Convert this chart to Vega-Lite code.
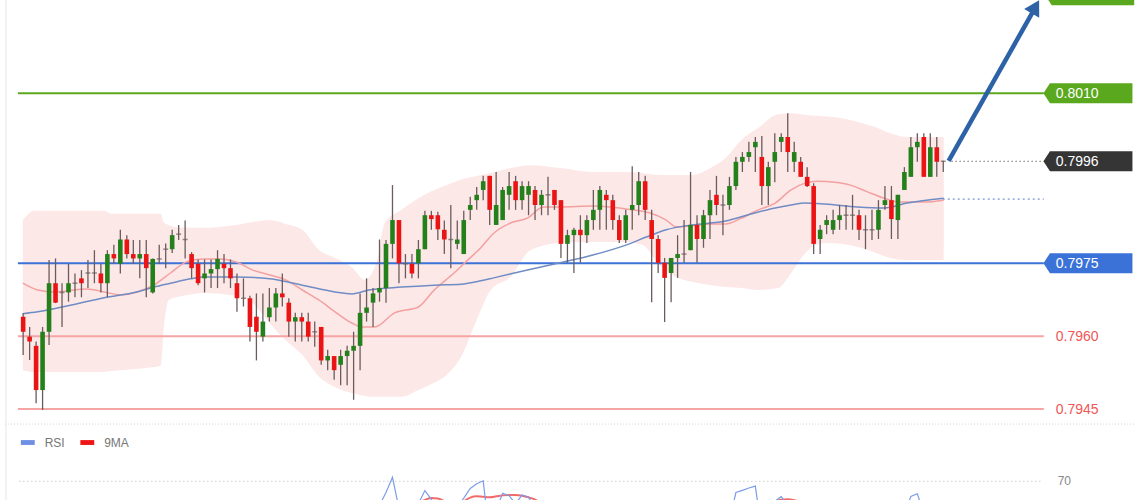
{
"$schema": "https://vega.github.io/schema/vega-lite/v6.json",
"width": 1140, "height": 500, "padding": 0, "autosize": {"type": "none"},
"background": "#ffffff",
"config": {"view": {"stroke": null}, "font": "Liberation Sans"},
"datasets": {
"candles": [
{"i":1,"o":0.7964,"h":0.79647,"l":0.79561,"c":0.79609},
{"i":2,"o":0.79599,"h":0.79619,"l":0.79551,"c":0.79589},
{"i":3,"o":0.7958,"h":0.79589,"l":0.79462,"c":0.79489},
{"i":4,"o":0.79489,"h":0.79619,"l":0.79448,"c":0.79609},
{"i":5,"o":0.79609,"h":0.79757,"l":0.79582,"c":0.79709},
{"i":6,"o":0.79709,"h":0.7976,"l":0.79668,"c":0.79669},
{"i":7,"o":0.7969,"h":0.79709,"l":0.79619,"c":0.7969},
{"i":8,"o":0.7969,"h":0.79749,"l":0.79671,"c":0.79709},
{"i":9,"o":0.79709,"h":0.79729,"l":0.7968,"c":0.79709},
{"i":10,"o":0.79719,"h":0.79736,"l":0.7968,"c":0.79709},
{"i":11,"o":0.7973,"h":0.79757,"l":0.79699,"c":0.7973},
{"i":12,"o":0.7973,"h":0.79777,"l":0.79709,"c":0.7973},
{"i":13,"o":0.79729,"h":0.79749,"l":0.7969,"c":0.79709},
{"i":14,"o":0.79709,"h":0.79777,"l":0.7968,"c":0.79769},
{"i":15,"o":0.79769,"h":0.79788,"l":0.79749,"c":0.7976},
{"i":16,"o":0.79749,"h":0.79819,"l":0.79729,"c":0.79799},
{"i":17,"o":0.79799,"h":0.79808,"l":0.7976,"c":0.79769},
{"i":18,"o":0.79769,"h":0.79798,"l":0.79749,"c":0.7976},
{"i":19,"o":0.7976,"h":0.79798,"l":0.79719,"c":0.79769},
{"i":20,"o":0.79769,"h":0.79798,"l":0.7968,"c":0.7974},
{"i":21,"o":0.7969,"h":0.7976,"l":0.79688,"c":0.79759},
{"i":22,"o":0.79759,"h":0.79788,"l":0.79749,"c":0.79759},
{"i":23,"o":0.79779,"h":0.79791,"l":0.7974,"c":0.79779},
{"i":24,"o":0.79779,"h":0.79819,"l":0.79771,"c":0.79808},
{"i":25,"o":0.7981,"h":0.79829,"l":0.79798,"c":0.7981},
{"i":26,"o":0.79799,"h":0.79838,"l":0.7976,"c":0.79799},
{"i":27,"o":0.79769,"h":0.79773,"l":0.79719,"c":0.7974},
{"i":28,"o":0.79749,"h":0.79758,"l":0.79705,"c":0.79709},
{"i":29,"o":0.79719,"h":0.79758,"l":0.7969,"c":0.79729},
{"i":30,"o":0.79729,"h":0.79758,"l":0.79699,"c":0.79738},
{"i":31,"o":0.79738,"h":0.79777,"l":0.79699,"c":0.79759},
{"i":32,"o":0.79749,"h":0.79769,"l":0.79709,"c":0.7974},
{"i":33,"o":0.7974,"h":0.79758,"l":0.79699,"c":0.79719},
{"i":34,"o":0.79709,"h":0.79729,"l":0.7965,"c":0.79678},
{"i":35,"o":0.79678,"h":0.79719,"l":0.79661,"c":0.79678},
{"i":36,"o":0.79678,"h":0.79683,"l":0.79589,"c":0.79619},
{"i":37,"o":0.7964,"h":0.79688,"l":0.7955,"c":0.79609},
{"i":38,"o":0.79599,"h":0.79688,"l":0.79589,"c":0.7963},
{"i":39,"o":0.79639,"h":0.79699,"l":0.7963,"c":0.79659},
{"i":40,"o":0.79659,"h":0.79699,"l":0.7963,"c":0.79688},
{"i":41,"o":0.79688,"h":0.79729,"l":0.79661,"c":0.7968},
{"i":42,"o":0.79669,"h":0.79678,"l":0.79599,"c":0.7963},
{"i":43,"o":0.7963,"h":0.79648,"l":0.79589,"c":0.79639},
{"i":44,"o":0.79639,"h":0.79648,"l":0.79589,"c":0.7963},
{"i":45,"o":0.7963,"h":0.79648,"l":0.79589,"c":0.79599},
{"i":46,"o":0.79609,"h":0.7963,"l":0.79578,"c":0.79609},
{"i":47,"o":0.79619,"h":0.79619,"l":0.79541,"c":0.7955},
{"i":48,"o":0.7955,"h":0.79572,"l":0.7953,"c":0.79559},
{"i":49,"o":0.79559,"h":0.79559,"l":0.7951,"c":0.7953},
{"i":50,"o":0.79541,"h":0.79572,"l":0.79499,"c":0.79559},
{"i":51,"o":0.79559,"h":0.7958,"l":0.79499,"c":0.7957},
{"i":52,"o":0.7957,"h":0.79609,"l":0.79469,"c":0.7958},
{"i":53,"o":0.7958,"h":0.79688,"l":0.7953,"c":0.79648},
{"i":54,"o":0.79648,"h":0.79719,"l":0.7963,"c":0.79659},
{"i":55,"o":0.79669,"h":0.79699,"l":0.79619,"c":0.79688},
{"i":56,"o":0.7969,"h":0.79799,"l":0.79671,"c":0.79699},
{"i":57,"o":0.79699,"h":0.79798,"l":0.79669,"c":0.7979},
{"i":58,"o":0.7979,"h":0.79911,"l":0.7976,"c":0.79839},
{"i":59,"o":0.79839,"h":0.79839,"l":0.79709,"c":0.7975},
{"i":60,"o":0.79749,"h":0.79769,"l":0.79719,"c":0.79749},
{"i":61,"o":0.79749,"h":0.79769,"l":0.79719,"c":0.79729},
{"i":62,"o":0.7975,"h":0.79798,"l":0.79719,"c":0.79779},
{"i":63,"o":0.79779,"h":0.79858,"l":0.79779,"c":0.79849},
{"i":64,"o":0.79849,"h":0.79858,"l":0.79819,"c":0.79841},
{"i":65,"o":0.79849,"h":0.79856,"l":0.79798,"c":0.7982},
{"i":66,"o":0.79819,"h":0.79838,"l":0.79769,"c":0.79799},
{"i":67,"o":0.79799,"h":0.7987,"l":0.7974,"c":0.79799},
{"i":68,"o":0.7979,"h":0.79838,"l":0.79779,"c":0.79799},
{"i":69,"o":0.79769,"h":0.79858,"l":0.79769,"c":0.79839},
{"i":70,"o":0.7986,"h":0.79887,"l":0.79839,"c":0.7987},
{"i":71,"o":0.7988,"h":0.79907,"l":0.7986,"c":0.79891},
{"i":72,"o":0.79901,"h":0.7993,"l":0.7988,"c":0.79919},
{"i":73,"o":0.7993,"h":0.7993,"l":0.79829,"c":0.7986},
{"i":74,"o":0.79829,"h":0.79938,"l":0.79829,"c":0.7987},
{"i":75,"o":0.79839,"h":0.79907,"l":0.79839,"c":0.79901},
{"i":76,"o":0.79891,"h":0.79938,"l":0.7986,"c":0.79909},
{"i":77,"o":0.79919,"h":0.7993,"l":0.7986,"c":0.7988},
{"i":78,"o":0.7988,"h":0.79919,"l":0.7986,"c":0.79909},
{"i":79,"o":0.79891,"h":0.79919,"l":0.79849,"c":0.79909},
{"i":80,"o":0.79901,"h":0.79909,"l":0.79839,"c":0.7987},
{"i":81,"o":0.7987,"h":0.79901,"l":0.79849,"c":0.79891},
{"i":82,"o":0.79891,"h":0.79928,"l":0.79849,"c":0.79891},
{"i":83,"o":0.79901,"h":0.79901,"l":0.7986,"c":0.7987},
{"i":84,"o":0.7988,"h":0.7988,"l":0.79761,"c":0.7979},
{"i":85,"o":0.7979,"h":0.79819,"l":0.79751,"c":0.79808},
{"i":86,"o":0.79808,"h":0.79823,"l":0.7973,"c":0.79819},
{"i":87,"o":0.79819,"h":0.79849,"l":0.79751,"c":0.79808},
{"i":88,"o":0.79808,"h":0.79849,"l":0.79792,"c":0.79839},
{"i":89,"o":0.79839,"h":0.79901,"l":0.79819,"c":0.7986},
{"i":90,"o":0.7986,"h":0.79909,"l":0.79819,"c":0.79901},
{"i":91,"o":0.79891,"h":0.79901,"l":0.79819,"c":0.7988},
{"i":92,"o":0.7988,"h":0.79891,"l":0.79819,"c":0.79839},
{"i":93,"o":0.79839,"h":0.79849,"l":0.79792,"c":0.79798},
{"i":94,"o":0.79798,"h":0.7986,"l":0.79792,"c":0.79849},
{"i":95,"o":0.7986,"h":0.7995,"l":0.79819,"c":0.7987},
{"i":96,"o":0.7987,"h":0.79938,"l":0.79849,"c":0.79919},
{"i":97,"o":0.79919,"h":0.7993,"l":0.79839,"c":0.7986},
{"i":98,"o":0.79839,"h":0.7986,"l":0.7967,"c":0.798},
{"i":99,"o":0.798,"h":0.79808,"l":0.7973,"c":0.79751},
{"i":100,"o":0.79751,"h":0.79761,"l":0.79629,"c":0.7972},
{"i":101,"o":0.7973,"h":0.79761,"l":0.7967,"c":0.79761},
{"i":102,"o":0.79761,"h":0.79808,"l":0.7972,"c":0.79769},
{"i":103,"o":0.79769,"h":0.79839,"l":0.79751,"c":0.79769},
{"i":104,"o":0.79777,"h":0.79938,"l":0.79777,"c":0.79829},
{"i":105,"o":0.79829,"h":0.79849,"l":0.79751,"c":0.798},
{"i":106,"o":0.798,"h":0.7986,"l":0.79782,"c":0.79849},
{"i":107,"o":0.79849,"h":0.79901,"l":0.798,"c":0.7988},
{"i":108,"o":0.79891,"h":0.7993,"l":0.79849,"c":0.7987},
{"i":109,"o":0.7987,"h":0.79891,"l":0.79808,"c":0.7987},
{"i":110,"o":0.7987,"h":0.79928,"l":0.7986,"c":0.79909},
{"i":111,"o":0.79909,"h":0.79969,"l":0.79901,"c":0.79959},
{"i":112,"o":0.79959,"h":0.79979,"l":0.79938,"c":0.79969},
{"i":113,"o":0.79969,"h":0.8,"l":0.79959,"c":0.79979},
{"i":114,"o":0.79989,"h":0.8001,"l":0.79938,"c":0.8},
{"i":115,"o":0.79969,"h":0.80012,"l":0.7987,"c":0.79909},
{"i":116,"o":0.79909,"h":0.79959,"l":0.7987,"c":0.79948},
{"i":117,"o":0.79959,"h":0.80018,"l":0.79917,"c":0.79979},
{"i":118,"o":0.8,"h":0.80018,"l":0.79979,"c":0.8001},
{"i":119,"o":0.8001,"h":0.80059,"l":0.79938,"c":0.79979},
{"i":120,"o":0.79959,"h":0.8,"l":0.79938,"c":0.79979},
{"i":121,"o":0.79959,"h":0.79969,"l":0.79928,"c":0.79928},
{"i":122,"o":0.79928,"h":0.79948,"l":0.79907,"c":0.79909},
{"i":123,"o":0.79909,"h":0.79915,"l":0.79769,"c":0.7979},
{"i":124,"o":0.798,"h":0.79829,"l":0.79769,"c":0.79819},
{"i":125,"o":0.79829,"h":0.79849,"l":0.7981,"c":0.79839},
{"i":126,"o":0.79819,"h":0.7986,"l":0.7981,"c":0.79839},
{"i":127,"o":0.79839,"h":0.7987,"l":0.79819,"c":0.79849},
{"i":128,"o":0.79849,"h":0.7987,"l":0.79819,"c":0.79849},
{"i":129,"o":0.79849,"h":0.79891,"l":0.79819,"c":0.79849},
{"i":130,"o":0.79849,"h":0.7986,"l":0.79798,"c":0.79819},
{"i":131,"o":0.79819,"h":0.79849,"l":0.79779,"c":0.79819},
{"i":132,"o":0.79819,"h":0.7986,"l":0.79798,"c":0.79819},
{"i":133,"o":0.79819,"h":0.7988,"l":0.798,"c":0.7986},
{"i":134,"o":0.7987,"h":0.79909,"l":0.7986,"c":0.7988},
{"i":135,"o":0.7988,"h":0.79909,"l":0.798,"c":0.79841},
{"i":136,"o":0.79839,"h":0.79891,"l":0.798,"c":0.79891},
{"i":137,"o":0.79901,"h":0.79948,"l":0.79901,"c":0.79938},
{"i":138,"o":0.79928,"h":0.8001,"l":0.79928,"c":0.79989},
{"i":139,"o":0.79989,"h":0.80018,"l":0.79959,"c":0.8},
{"i":140,"o":0.8001,"h":0.80018,"l":0.79928,"c":0.79928},
{"i":141,"o":0.79928,"h":0.80018,"l":0.79928,"c":0.79989},
{"i":142,"o":0.79989,"h":0.8001,"l":0.79928,"c":0.79959},
{"i":143,"o":0.7996,"h":0.79961,"l":0.79938,"c":0.7996}
],
"band": [
{"i":0.95,"up":0.79839,"lo":0.7953},
{"i":2.79,"up":0.79858,"lo":0.79526},
{"i":7.38,"up":0.79858,"lo":0.79526},
{"i":13.5,"up":0.79858,"lo":0.79526},
{"i":14.57,"up":0.79852,"lo":0.79528},
{"i":19.62,"up":0.79852,"lo":0.79534},
{"i":22.22,"up":0.79852,"lo":0.79539},
{"i":22.68,"up":0.79835,"lo":0.79613},
{"i":23.44,"up":0.79829,"lo":0.79674},
{"i":25.74,"up":0.79823,"lo":0.79683},
{"i":28.8,"up":0.79823,"lo":0.79689},
{"i":33.85,"up":0.79829,"lo":0.79683},
{"i":36.44,"up":0.79835,"lo":0.79668},
{"i":39.04,"up":0.79839,"lo":0.79627},
{"i":41.49,"up":0.79831,"lo":0.79592},
{"i":44.09,"up":0.79819,"lo":0.79561},
{"i":46.69,"up":0.79777,"lo":0.79516},
{"i":49.14,"up":0.79761,"lo":0.79495},
{"i":51.74,"up":0.79742,"lo":0.79483},
{"i":53.73,"up":0.79716,"lo":0.79477},
{"i":55.57,"up":0.79753,"lo":0.79475},
{"i":56.79,"up":0.79833,"lo":0.79475},
{"i":59.39,"up":0.7986,"lo":0.79475},
{"i":61.99,"up":0.79884,"lo":0.79489},
{"i":64.44,"up":0.79901,"lo":0.79504},
{"i":65.97,"up":0.79909,"lo":0.79516},
{"i":68.57,"up":0.79922,"lo":0.79557},
{"i":71.17,"up":0.7993,"lo":0.79639},
{"i":73.16,"up":0.79936,"lo":0.79695},
{"i":76.22,"up":0.79946,"lo":0.79722},
{"i":79.28,"up":0.79952,"lo":0.79777},
{"i":83.87,"up":0.79946,"lo":0.79792},
{"i":88.92,"up":0.79938,"lo":0.79794},
{"i":94.12,"up":0.79938,"lo":0.79794},
{"i":96.56,"up":0.79936,"lo":0.79788},
{"i":99.17,"up":0.79932,"lo":0.79747},
{"i":101.77,"up":0.79932,"lo":0.79722},
{"i":104.21,"up":0.79932,"lo":0.79712},
{"i":107.27,"up":0.79948,"lo":0.79705},
{"i":109.41,"up":0.79967,"lo":0.79701},
{"i":111.86,"up":0.80004,"lo":0.79699},
{"i":114.46,"up":0.80029,"lo":0.79695},
{"i":117.52,"up":0.80057,"lo":0.79699},
{"i":119.51,"up":0.80059,"lo":0.7973},
{"i":122.11,"up":0.80055,"lo":0.79777},
{"i":124.71,"up":0.80053,"lo":0.79792},
{"i":127.16,"up":0.80049,"lo":0.7979},
{"i":129.76,"up":0.80041,"lo":0.79784},
{"i":132.36,"up":0.80031,"lo":0.79773},
{"i":134.8,"up":0.80018,"lo":0.79761},
{"i":137.41,"up":0.8001,"lo":0.79757},
{"i":140.01,"up":0.8001,"lo":0.79757},
{"i":143.07,"up":0.8001,"lo":0.79757}
],
"ma20": [
{"i":0.95,"v":0.79709},{"i":3.25,"v":0.79695},{"i":5.85,"v":0.79691},{"i":10.9,"v":0.79697},
{"i":13.5,"v":0.79691},{"i":16.1,"v":0.79685},{"i":18.55,"v":0.79691},{"i":21.15,"v":0.79705},
{"i":23.75,"v":0.7973},{"i":26.2,"v":0.79753},{"i":28.8,"v":0.79759},{"i":31.4,"v":0.79759},
{"i":33.85,"v":0.79753},{"i":36.44,"v":0.79736},{"i":39.04,"v":0.79726},{"i":41.49,"v":0.79716},
{"i":44.09,"v":0.79695},{"i":46.69,"v":0.79674},{"i":49.14,"v":0.7965},{"i":51.74,"v":0.79627},
{"i":53.27,"v":0.79619},{"i":55.26,"v":0.79619},{"i":58.32,"v":0.79648},{"i":61.99,"v":0.7966},
{"i":64.44,"v":0.79695},{"i":67.5,"v":0.7973},{"i":69.64,"v":0.79757},{"i":71.63,"v":0.79782},
{"i":73.62,"v":0.79812},{"i":76.22,"v":0.79833},{"i":78.82,"v":0.79843},{"i":81.27,"v":0.79866},
{"i":83.87,"v":0.79866},{"i":88.92,"v":0.79868},{"i":91.52,"v":0.79866},{"i":95.04,"v":0.7986},
{"i":97.64,"v":0.79854},{"i":100.24,"v":0.79839},{"i":101.77,"v":0.79825},{"i":104.21,"v":0.79827},
{"i":106.82,"v":0.79831},{"i":109.41,"v":0.79831},{"i":111.86,"v":0.79843},{"i":114.46,"v":0.7986},
{"i":117.06,"v":0.79874},{"i":119.51,"v":0.79901},{"i":121.65,"v":0.79915},{"i":123.64,"v":0.79919},
{"i":126.24,"v":0.79917},{"i":128.69,"v":0.79911},{"i":131.29,"v":0.79897},{"i":133.89,"v":0.79884},
{"i":136.33,"v":0.79876},{"i":140.01,"v":0.79876},{"i":143.07,"v":0.7988}
],
"ma100": [
{"i":0.95,"v":0.79646},{"i":3.25,"v":0.7965},{"i":8.45,"v":0.79664},{"i":13.5,"v":0.79679},
{"i":18.55,"v":0.79691},{"i":21.15,"v":0.79701},{"i":23.75,"v":0.79709},{"i":26.81,"v":0.79718},
{"i":28.8,"v":0.79722},{"i":33.85,"v":0.79722},{"i":39.04,"v":0.79718},{"i":44.09,"v":0.79705},
{"i":49.14,"v":0.79691},{"i":51.74,"v":0.79687},{"i":54.34,"v":0.79695},{"i":59.39,"v":0.79701},
{"i":64.44,"v":0.79705},{"i":68.57,"v":0.79707},{"i":71.63,"v":0.79714},{"i":73.62,"v":0.7972},
{"i":78.82,"v":0.79736},{"i":83.87,"v":0.79751},{"i":88.92,"v":0.79767},{"i":94.12,"v":0.79788},
{"i":97.18,"v":0.79804},{"i":100.24,"v":0.79819},{"i":104.21,"v":0.79829},{"i":109.41,"v":0.79837},
{"i":112.93,"v":0.7985},{"i":117.06,"v":0.79864},{"i":119.51,"v":0.7987},{"i":121.65,"v":0.79874},
{"i":124.71,"v":0.79872},{"i":129.76,"v":0.79866},{"i":133.89,"v":0.79864},{"i":137.41,"v":0.79874},
{"i":143.07,"v":0.79884}
],
"tags": [{"t":"res","p":0.801},{"t":"cur","p":0.7996},{"t":"sup","p":0.7975}],
"target": [{"t":"res","p":0.80302}],
"redlv": [{"p":0.796},{"p":0.7945}],
"rsi": [
{"g":1,"i":56,"v":55},{"g":1,"i":57,"v":63},{"g":1,"i":58,"v":72.5},{"g":1,"i":59,"v":53},
{"g":2,"i":62,"v":56},{"g":2,"i":63,"v":64.2},{"g":2,"i":64,"v":58.7},{"g":2,"i":65,"v":52},
{"g":3,"i":68,"v":54},{"g":3,"i":69,"v":59.5},{"g":3,"i":70,"v":65.5},{"g":3,"i":71,"v":68.5},{"g":3,"i":72,"v":70.3},{"g":3,"i":73,"v":35},{"g":3,"i":74,"v":52},{"g":3,"i":75,"v":62.5},{"g":3,"i":76,"v":61},{"g":3,"i":77,"v":56},{"g":3,"i":78,"v":61.5},{"g":3,"i":79,"v":60},{"g":3,"i":80,"v":53},
{"g":4,"i":110,"v":45},{"g":4,"i":111,"v":63},{"g":4,"i":112,"v":64.3},{"g":4,"i":113,"v":65.8},{"g":4,"i":114,"v":67},{"g":4,"i":115,"v":38},
{"g":5,"i":117,"v":57.5},{"g":5,"i":118,"v":60.4},{"g":5,"i":119,"v":55},
{"g":6,"i":137,"v":50},{"g":6,"i":138,"v":60.5},{"g":6,"i":139,"v":62.2},{"g":6,"i":140,"v":50}
],
"rsima": [
{"g":1,"i":62,"v":56.5},{"g":1,"i":63,"v":58.4},{"g":1,"i":64,"v":59.6},{"g":1,"i":65,"v":59.3},{"g":1,"i":66,"v":57.5},
{"g":2,"i":69,"v":57.5},{"g":2,"i":70,"v":59.8},{"g":2,"i":71,"v":60.6},{"g":2,"i":72,"v":60.3},{"g":2,"i":73,"v":60.1},{"g":2,"i":74,"v":60.6},{"g":2,"i":75,"v":61.2},{"g":2,"i":76,"v":61.5},{"g":2,"i":77,"v":61.5},{"g":2,"i":78,"v":61},{"g":2,"i":79,"v":60},{"g":2,"i":80,"v":58.6},{"g":2,"i":81,"v":56},
{"g":3,"i":117,"v":57.5},{"g":3,"i":118,"v":58.5},{"g":3,"i":119,"v":58.8},{"g":3,"i":120,"v":58.2},{"g":3,"i":121,"v":57}
],
"one": [{}]
},
"layer": [
{"layer": [
{"data": {"name": "one"}, "mark": {"type": "rule", "color": "#e2e6ee", "strokeWidth": 1},
 "encoding": {"x": {"datum": -1.65, "type": "quantitative", "scale": {"domain": [-1.7994, 172.5918], "nice": false, "zero": false}, "axis": null},
  "y": {"datum": 0.7926265, "type": "quantitative", "scale": {"domain": [0.7926265, 0.802921], "nice": false, "zero": false}, "axis": null},
  "y2": {"datum": 0.802921}}},
{"data": {"name": "band"}, "mark": {"type": "area", "color": "#fde8e8", "opacity": 1, "interpolate": "monotone"},
 "encoding": {"x": {"field": "i", "type": "quantitative", "scale": {"domain": [-1.7994, 172.5918], "nice": false, "zero": false}, "axis": null},
  "y": {"field": "up", "type": "quantitative", "scale": {"domain": [0.7926265, 0.802921], "nice": false, "zero": false}, "axis": null},
  "y2": {"field": "lo"}}},
{"data": {"name": "redlv"}, "mark": {"type": "rule", "color": "#f6a5a5", "strokeWidth": 2},
 "encoding": {"x": {"datum": 0.19, "type": "quantitative", "scale": {"domain": [-1.7994, 172.5918], "nice": false, "zero": false}, "axis": null},
  "x2": {"datum": 158.52},
  "y": {"field": "p", "type": "quantitative", "scale": {"domain": [0.7926265, 0.802921], "nice": false, "zero": false}, "axis": null}}},
{"data": {"name": "tags"}, "transform": [{"filter": "datum.t != 'cur'"}],
 "mark": {"type": "rule", "strokeWidth": 2},
 "encoding": {"x": {"datum": 0.19, "type": "quantitative", "scale": {"domain": [-1.7994, 172.5918], "nice": false, "zero": false}, "axis": null},
  "x2": {"datum": 158.52},
  "y": {"field": "p", "type": "quantitative", "scale": {"domain": [0.7926265, 0.802921], "nice": false, "zero": false}, "axis": null},
  "color": {"field": "t", "type": "nominal", "scale": {"domain": ["res", "cur", "sup"], "range": ["#5aa81e", "#353535", "#3a72d8"]}, "legend": null}}},
{"data": {"name": "ma20"}, "mark": {"type": "line", "color": "#f3a0a0", "strokeWidth": 1.5, "interpolate": "monotone"},
 "encoding": {"x": {"field": "i", "type": "quantitative", "scale": {"domain": [-1.7994, 172.5918], "nice": false, "zero": false}, "axis": null},
  "y": {"field": "v", "type": "quantitative", "scale": {"domain": [0.7926265, 0.802921], "nice": false, "zero": false}, "axis": null}}},
{"data": {"name": "ma100"}, "mark": {"type": "line", "color": "#6f8cc4", "strokeWidth": 1.5, "interpolate": "monotone"},
 "encoding": {"x": {"field": "i", "type": "quantitative", "scale": {"domain": [-1.7994, 172.5918], "nice": false, "zero": false}, "axis": null},
  "y": {"field": "v", "type": "quantitative", "scale": {"domain": [0.7926265, 0.802921], "nice": false, "zero": false}, "axis": null}}},
{"data": {"name": "candles"}, "mark": {"type": "rule", "color": "#6a5c5c", "strokeWidth": 1.3},
 "encoding": {"x": {"field": "i", "type": "quantitative", "scale": {"domain": [-1.7994, 172.5918], "nice": false, "zero": false}, "axis": null},
  "y": {"field": "l", "type": "quantitative", "scale": {"domain": [0.7926265, 0.802921], "nice": false, "zero": false}, "axis": null},
  "y2": {"field": "h"}}},
{"data": {"name": "candles"}, "mark": {"type": "bar", "width": 4.6},
 "encoding": {"x": {"field": "i", "type": "quantitative", "scale": {"domain": [-1.7994, 172.5918], "nice": false, "zero": false}, "axis": null},
  "y": {"field": "o", "type": "quantitative", "scale": {"domain": [0.7926265, 0.802921], "nice": false, "zero": false}, "axis": null},
  "y2": {"field": "c"},
  "color": {"condition": {"test": "datum.c >= datum.o", "value": "#23801a"}, "value": "#ea1414"}}},
{"data": {"name": "candles"}, "transform": [{"filter": "datum.o == datum.c"}],
 "mark": {"type": "tick", "orient": "horizontal", "size": 5, "thickness": 1.5, "color": "#6a5c5c"},
 "encoding": {"x": {"field": "i", "type": "quantitative", "scale": {"domain": [-1.7994, 172.5918], "nice": false, "zero": false}, "axis": null},
  "y": {"field": "o", "type": "quantitative", "scale": {"domain": [0.7926265, 0.802921], "nice": false, "zero": false}, "axis": null}}},
{"data": {"name": "tags"}, "transform": [{"filter": "datum.t == 'cur'"}],
 "mark": {"type": "rule", "color": "#333333", "strokeWidth": 1, "strokeDash": [1, 3]},
 "encoding": {"x": {"datum": 144.29, "type": "quantitative", "scale": {"domain": [-1.7994, 172.5918], "nice": false, "zero": false}, "axis": null},
  "x2": {"datum": 158.52},
  "y": {"field": "p", "type": "quantitative", "scale": {"domain": [0.7926265, 0.802921], "nice": false, "zero": false}, "axis": null}}},
{"data": {"name": "one"}, "mark": {"type": "rule", "color": "#7b98d8", "strokeWidth": 1.2, "strokeDash": [2, 3]},
 "encoding": {"x": {"datum": 142.92, "type": "quantitative", "scale": {"domain": [-1.7994, 172.5918], "nice": false, "zero": false}, "axis": null},
  "x2": {"datum": 158.52},
  "y": {"datum": 0.79882, "type": "quantitative", "scale": {"domain": [0.7926265, 0.802921], "nice": false, "zero": false}, "axis": null}}},
{"data": {"name": "tags"}, "mark": {"type": "point", "shape": "M-4.45,0L-3.8,-1L4.45,-1L4.45,1L-3.8,1Z", "size": 400, "filled": true, "opacity": 1, "strokeWidth": 0},
 "encoding": {"x": {"datum": 165.33, "type": "quantitative", "scale": {"domain": [-1.7994, 172.5918], "nice": false, "zero": false}, "axis": null},
  "y": {"field": "p", "type": "quantitative", "scale": {"domain": [0.7926265, 0.802921], "nice": false, "zero": false}, "axis": null},
  "color": {"field": "t", "type": "nominal", "scale": {"domain": ["res", "cur", "sup"], "range": ["#5aa81e", "#353535", "#2b6ff0"]}, "legend": null}}},
{"data": {"name": "target"}, "mark": {"type": "point", "shape": "M-4.45,0L-3.8,-1L4.45,-1L4.45,1L-3.8,1Z", "size": 400, "filled": true, "opacity": 1, "strokeWidth": 0, "color": "#5aa81e", "clip": true},
 "encoding": {"x": {"datum": 165.6, "type": "quantitative", "scale": {"domain": [-1.7994, 172.5918], "nice": false, "zero": false}, "axis": null},
  "y": {"field": "p", "type": "quantitative", "scale": {"domain": [0.7926265, 0.802921], "nice": false, "zero": false}, "axis": null}}},
{"data": {"name": "tags"}, "mark": {"type": "text", "align": "left", "baseline": "middle", "fontSize": 14, "color": "#ffffff", "dy": 1},
 "encoding": {"x": {"datum": 160.36, "type": "quantitative", "scale": {"domain": [-1.7994, 172.5918], "nice": false, "zero": false}, "axis": null},
  "y": {"field": "p", "type": "quantitative", "scale": {"domain": [0.7926265, 0.802921], "nice": false, "zero": false}, "axis": null},
  "text": {"field": "p", "type": "quantitative", "format": ".4f"}}},
{"data": {"name": "redlv"}, "mark": {"type": "text", "align": "left", "baseline": "middle", "fontSize": 14, "color": "#f05656", "dy": 1},
 "encoding": {"x": {"datum": 160.36, "type": "quantitative", "scale": {"domain": [-1.7994, 172.5918], "nice": false, "zero": false}, "axis": null},
  "y": {"field": "p", "type": "quantitative", "scale": {"domain": [0.7926265, 0.802921], "nice": false, "zero": false}, "axis": null},
  "text": {"field": "p", "type": "quantitative", "format": ".4f"}}},
{"data": {"name": "one"}, "mark": {"type": "rule", "color": "#2d62a6", "strokeWidth": 4.5, "strokeCap": "butt", "clip": true},
 "encoding": {"x": {"datum": 143.83, "type": "quantitative", "scale": {"domain": [-1.7994, 172.5918], "nice": false, "zero": false}, "axis": null},
  "x2": {"datum": 156.84},
  "y": {"datum": 0.79961, "type": "quantitative", "scale": {"domain": [0.7926265, 0.802921], "nice": false, "zero": false}, "axis": null},
  "y2": {"datum": 0.80268}}},
{"data": {"name": "one"}, "mark": {"type": "point", "shape": "triangle-up", "size": 300, "angle": 29.6, "filled": true, "opacity": 1, "color": "#2d62a6", "strokeWidth": 0, "clip": true},
 "encoding": {"x": {"datum": 157.22, "type": "quantitative", "scale": {"domain": [-1.7994, 172.5918], "nice": false, "zero": false}, "axis": null},
  "y": {"datum": 0.80278, "type": "quantitative", "scale": {"domain": [0.7926265, 0.802921], "nice": false, "zero": false}, "axis": null}}},
{"data": {"name": "one"}, "mark": {"type": "rule", "color": "#d3d3d3", "strokeWidth": 1, "strokeDash": [1, 2]},
 "encoding": {"x": {"datum": -1.79, "type": "quantitative", "scale": {"domain": [-1.7994, 172.5918], "nice": false, "zero": false}, "axis": null},
  "x2": {"datum": 172.59},
  "y": {"datum": 0.79419, "type": "quantitative", "scale": {"domain": [0.7926265, 0.802921], "nice": false, "zero": false}, "axis": null}}},
{"data": {"name": "one"}, "mark": {"type": "rect", "color": "#6f8fe6"},
 "encoding": {"x": {"datum": 0.65, "type": "quantitative", "scale": {"domain": [-1.7994, 172.5918], "nice": false, "zero": false}, "axis": null},
  "x2": {"datum": 2.79},
  "y": {"datum": 0.79386, "type": "quantitative", "scale": {"domain": [0.7926265, 0.802921], "nice": false, "zero": false}, "axis": null},
  "y2": {"datum": 0.79376}}},
{"data": {"name": "one"}, "mark": {"type": "rect", "color": "#f01515"},
 "encoding": {"x": {"datum": 9.83, "type": "quantitative", "scale": {"domain": [-1.7994, 172.5918], "nice": false, "zero": false}, "axis": null},
  "x2": {"datum": 11.97},
  "y": {"datum": 0.79386, "type": "quantitative", "scale": {"domain": [0.7926265, 0.802921], "nice": false, "zero": false}, "axis": null},
  "y2": {"datum": 0.79376}}},
{"data": {"name": "one"}, "mark": {"type": "text", "text": "RSI", "align": "left", "baseline": "middle", "fontSize": 12, "color": "#777777"},
 "encoding": {"x": {"datum": 4.32, "type": "quantitative", "scale": {"domain": [-1.7994, 172.5918], "nice": false, "zero": false}, "axis": null},
  "y": {"datum": 0.79381, "type": "quantitative", "scale": {"domain": [0.7926265, 0.802921], "nice": false, "zero": false}, "axis": null}}},
{"data": {"name": "one"}, "mark": {"type": "text", "text": "9MA", "align": "left", "baseline": "middle", "fontSize": 12, "color": "#777777"},
 "encoding": {"x": {"datum": 13.5, "type": "quantitative", "scale": {"domain": [-1.7994, 172.5918], "nice": false, "zero": false}, "axis": null},
  "y": {"datum": 0.79381, "type": "quantitative", "scale": {"domain": [0.7926265, 0.802921], "nice": false, "zero": false}, "axis": null}}}
]},
{"layer": [
{"data": {"name": "one"}, "mark": {"type": "rule", "color": "#b5b5b5", "strokeWidth": 1, "strokeDash": [1, 3]},
 "encoding": {"x": {"datum": 0.42, "type": "quantitative", "scale": {"domain": [-1.7994, 172.5918], "nice": false, "zero": false}, "axis": null},
  "x2": {"datum": 158.37},
  "y": {"datum": 70, "type": "quantitative", "scale": {"domain": [58.3125, 370.8125], "nice": false, "zero": false}, "axis": null}}},
{"data": {"name": "one"}, "mark": {"type": "text", "text": "70", "align": "left", "baseline": "middle", "fontSize": 12, "color": "#888888"},
 "encoding": {"x": {"datum": 160.66, "type": "quantitative", "scale": {"domain": [-1.7994, 172.5918], "nice": false, "zero": false}, "axis": null},
  "y": {"datum": 70, "type": "quantitative", "scale": {"domain": [58.3125, 370.8125], "nice": false, "zero": false}, "axis": null}}},
{"data": {"name": "rsima"}, "mark": {"type": "line", "color": "#f06b6b", "strokeWidth": 2, "interpolate": "monotone", "clip": true},
 "encoding": {"x": {"field": "i", "type": "quantitative", "scale": {"domain": [-1.7994, 172.5918], "nice": false, "zero": false}, "axis": null},
  "y": {"field": "v", "type": "quantitative", "scale": {"domain": [58.3125, 370.8125], "nice": false, "zero": false}, "axis": null},
  "detail": {"field": "g", "type": "nominal"}}},
{"data": {"name": "rsi"}, "mark": {"type": "line", "color": "#7c9ce8", "strokeWidth": 1.2, "clip": true},
 "encoding": {"x": {"field": "i", "type": "quantitative", "scale": {"domain": [-1.7994, 172.5918], "nice": false, "zero": false}, "axis": null},
  "y": {"field": "v", "type": "quantitative", "scale": {"domain": [58.3125, 370.8125], "nice": false, "zero": false}, "axis": null},
  "detail": {"field": "g", "type": "nominal"}}}
]}
],
"resolve": {"scale": {"y": "independent", "color": "independent"}}
}
